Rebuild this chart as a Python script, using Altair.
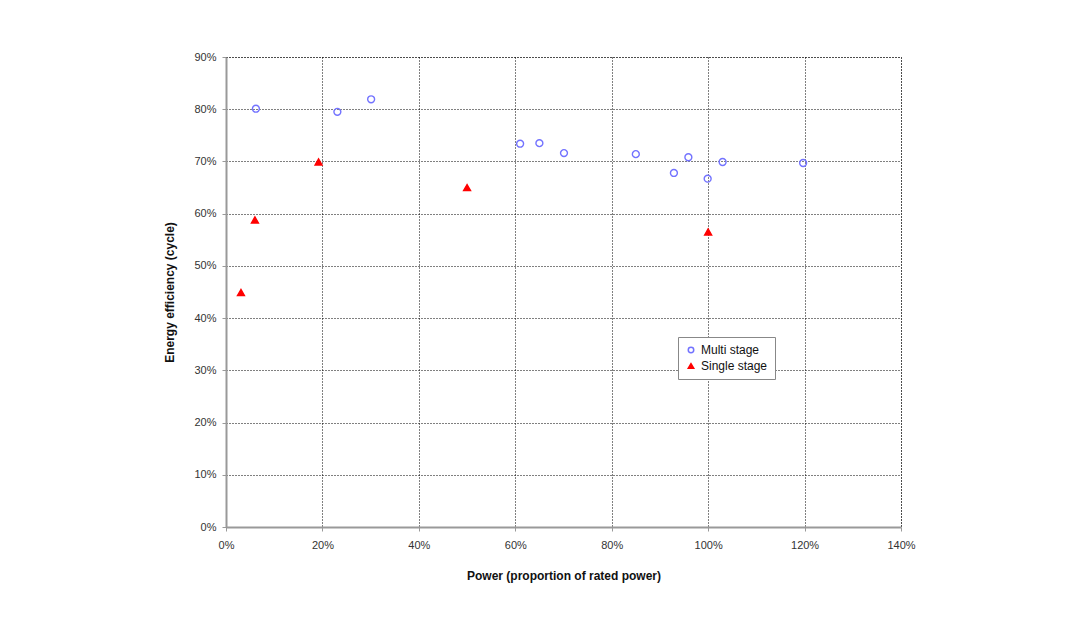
import altair as alt
import pandas as pd

# Multi stage (open circles)
multi_power = [0.062, 0.231, 0.301, 0.610, 0.650, 0.701, 0.850, 0.929, 0.959, 0.999, 1.030, 1.197]
multi_eff = [0.801, 0.795, 0.819, 0.734, 0.735, 0.716, 0.714, 0.678, 0.708, 0.667, 0.699, 0.697]

# Single stage (red triangles)
single_power = [0.031, 0.060, 0.192, 0.500, 1.000]
single_eff = [0.449, 0.588, 0.699, 0.650, 0.565]

series_names = ["Multi stage", "Single stage"]

df = pd.DataFrame(
    {
        "power": multi_power + single_power,
        "eff": multi_eff + single_eff,
        "series": [series_names[0]] * len(multi_power) + [series_names[1]] * len(single_power),
    }
)

font = "Liberation Sans"

legend = alt.Legend(
    title=None,
    orient="none",
    legendX=452,
    legendY=280,
    strokeColor="#888888",
    fillColor="white",
    padding=7,
    labelFont=font,
    labelFontSize=12,
    labelColor="#111111",
    symbolSize=30,
    rowPadding=4,
    labelLimit=200,
)

chart = (
    alt.Chart(df)
    .mark_point(size=48, strokeWidth=1.4, opacity=1)
    .encode(
        x=alt.X(
            "power:Q",
            scale=alt.Scale(domain=[0, 1.4], nice=False, zero=True),
            axis=alt.Axis(
                values=[0, 0.2, 0.4, 0.6, 0.8, 1.0, 1.2, 1.4],
                format=".0%",
                title="Power (proportion of rated power)",
                labelFlush=False,
            ),
        ),
        y=alt.Y(
            "eff:Q",
            scale=alt.Scale(domain=[0, 0.9], nice=False),
            axis=alt.Axis(
                values=[0, 0.1, 0.2, 0.3, 0.4, 0.5, 0.6, 0.7, 0.8, 0.9],
                format=".0%",
                title="Energy efficiency (cycle)",
                labelFlush=False,
            ),
        ),
        shape=alt.Shape(
            "series:N",
            scale=alt.Scale(domain=series_names, range=["circle", "triangle-up"]),
            legend=legend,
        ),
        color=alt.Color(
            "series:N",
            scale=alt.Scale(domain=series_names, range=["#7373ff", "#ff0000"]),
            legend=legend,
        ),
        fill=alt.Fill(
            "series:N",
            scale=alt.Scale(domain=series_names, range=["transparent", "#ff0000"]),
            legend=legend,
        ),
    )
    .properties(
        width=675,
        height=470,
        autosize=alt.AutoSizeParams(type="none"),
        padding={"left": 218, "top": 49, "right": 150, "bottom": 80},
        background="white",
    )
    .configure_view(stroke="#333333", strokeDash=[1, 2], strokeWidth=1)
    .configure_axis(
        grid=True,
        gridColor="#000000",
        gridDash=[1, 2],
        gridWidth=1,
        gridOpacity=1,
        domainColor="#999999",
        domainWidth=2,
        tickColor="#999999",
        tickSize=4,
        labelFont=font,
        labelFontSize=11,
        labelColor="#333333",
        titleFont=font,
        titleFontSize=12,
        titleFontWeight="bold",
        titleColor="#111111",
    )
    .configure_axisX(labelPadding=8, titlePadding=20)
    .configure_axisY(labelPadding=6, titlePadding=17)
)

chart.save("out.html", embed_options={"renderer": "svg", "actions": False})
